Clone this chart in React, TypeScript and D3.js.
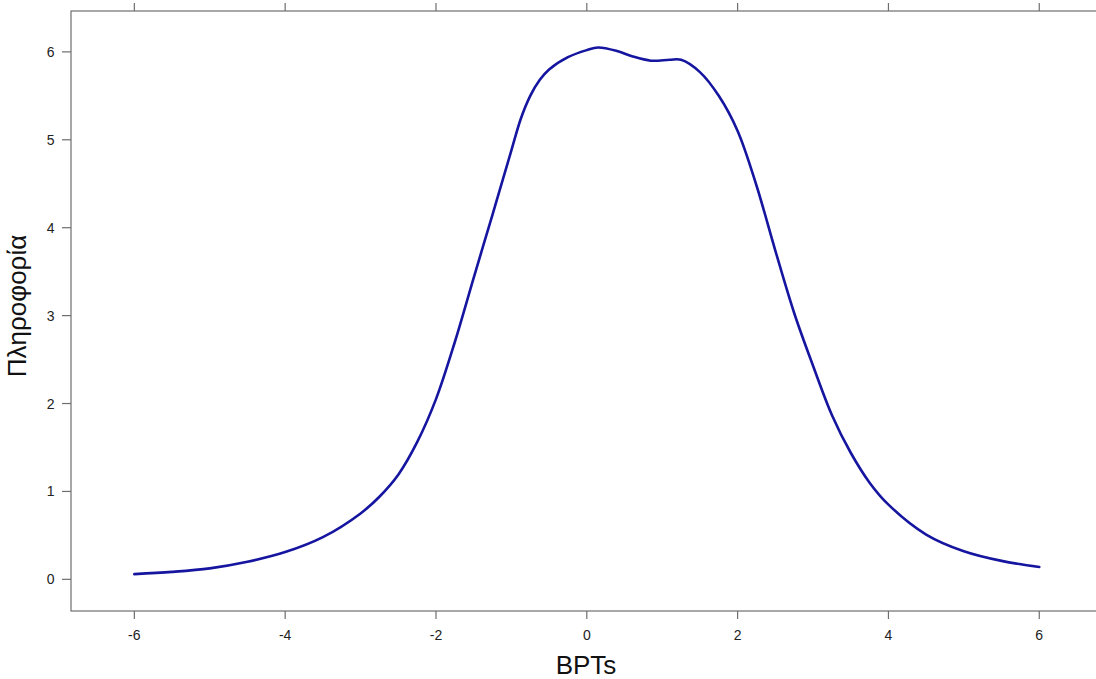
import React from "react";
import * as d3 from "d3";

const xValues = [-6, -5.5, -5, -4.5, -4, -3.5, -3, -2.75, -2.5, -2.25, -2, -1.75, -1.5, -1.25, -1, -0.875, -0.75, -0.625, -0.5, -0.25, 0, 0.15, 0.4, 0.6, 0.85, 1.1, 1.25, 1.5, 1.75, 2, 2.25, 2.5, 2.75, 3, 3.25, 3.5, 3.75, 4, 4.5, 5, 5.5, 6];
const infoValues = [0.06, 0.085, 0.125, 0.2, 0.31, 0.48, 0.75, 0.94, 1.19, 1.56, 2.05, 2.7, 3.43, 4.15, 4.88, 5.24, 5.5, 5.68, 5.8, 5.94, 6.02, 6.05, 6.01, 5.95, 5.9, 5.91, 5.91, 5.77, 5.5, 5.1, 4.48, 3.74, 3.03, 2.43, 1.87, 1.44, 1.1, 0.85, 0.51, 0.32, 0.21, 0.14];
const xTicks = [-6, -4, -2, 0, 2, 4, 6];
const yTicks = [0, 1, 2, 3, 4, 5, 6];
const xTitle = "BPTs";
const yTitle = "Πληροφορία";

const W = 1096;
const H = 679;
const left = 71;
const top = 11;
const bottom = 611;

export default function App() {
  const x = d3.scaleLinear().domain([-6.84, 6.84]).range([left, 1102.6]);
  const y = d3.scaleLinear().domain([-0.36, 6.465]).range([bottom, top]);
  const pts: [number, number][] = xValues.map((v, i) => [v, infoValues[i]]);
  const line = d3
    .line<[number, number]>()
    .x((d) => x(d[0]))
    .y((d) => y(d[1]))
    .curve(d3.curveCatmullRom.alpha(0.5));
  const axisCol = "#6e6e6e";
  const font = "'Liberation Sans', Arial, sans-serif";
  return (
    <svg
      width={W}
      height={H}
      style={{ position: "absolute", left: 0, top: 0, background: "#fff" }}
      fontFamily={font}
    >
      <rect x={left} y={top} width={x(6.84) - left} height={bottom - top} fill="none" stroke={axisCol} strokeWidth={1.2} />
      {xTicks.map((t) => (
        <g key={"x" + t}>
          <line x1={x(t)} x2={x(t)} y1={bottom} y2={bottom + 8} stroke={axisCol} strokeWidth={1.2} />
          <line x1={x(t)} x2={x(t)} y1={top} y2={top - 8} stroke={axisCol} strokeWidth={1.2} />
          <text x={x(t)} y={639.5} textAnchor="middle" fontSize={14} fill="#222">
            {t}
          </text>
        </g>
      ))}
      {yTicks.map((t) => (
        <g key={"y" + t}>
          <line x1={left - 9} x2={left} y1={y(t)} y2={y(t)} stroke={axisCol} strokeWidth={1.2} />
          <text x={54.5} y={y(t) + 5} textAnchor="end" fontSize={14} fill="#222">
            {t}
          </text>
        </g>
      ))}
      <path d={line(pts) || ""} fill="none" stroke="#1515a0" strokeWidth={2.6} strokeLinejoin="round" strokeLinecap="round" />
      <text x={586} y={674} textAnchor="middle" fontSize={26} fill="#111">
        {xTitle}
      </text>
      <text transform={`translate(26,306) rotate(-90)`} textAnchor="middle" fontSize={26} fill="#111">
        {yTitle}
      </text>
    </svg>
  );
}
